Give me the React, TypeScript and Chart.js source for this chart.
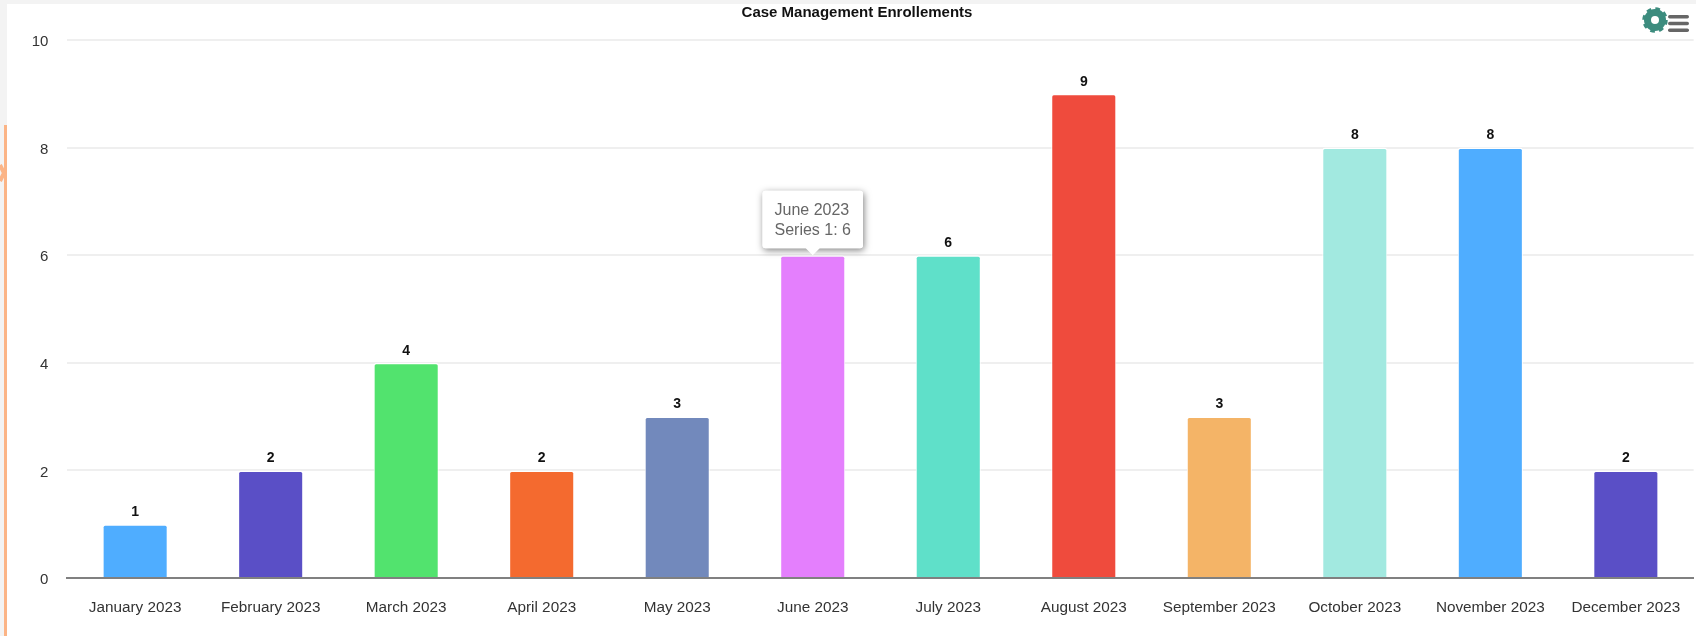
import React, { useEffect, useRef } from "react";
import { Chart, registerables } from "chart.js";

Chart.register(...registerables);

const categories = ["January 2023","February 2023","March 2023","April 2023","May 2023","June 2023","July 2023","August 2023","September 2023","October 2023","November 2023","December 2023"];
const values = [1,2,4,2,3,6,6,9,3,8,8,2];
const barColors = ["#4FADFF","#5A4FC6","#52E36E","#F46A2F","#7289BC","#E47FFD","#5FE0C9","#EF4B3D","#F4B467","#A2E9E0","#4FADFF","#5A4FC6"];
const yTicks = [0,2,4,6,8,10];
const seriesName = "Series 1";
const chartTitle = "Case Management Enrollements";
const activeIndex = 5;
const FONT = '"Liberation Sans", Arial, sans-serif';

const valueLabels = {
  id: "valueLabels",
  afterDatasetsDraw(chart: any) {
    const { ctx } = chart;
    const meta = chart.getDatasetMeta(0);
    ctx.save();
    ctx.font = `bold 14px ${FONT}`;
    ctx.fillStyle = "#111";
    ctx.textAlign = "center";
    ctx.textBaseline = "middle";
    meta.data.forEach((el: any, i: number) => ctx.fillText(String(values[i]), el.x, el.y - 12));
    ctx.restore();
  },
};

// Shadow goes under the box only, so the tooltip's text stays crisp.
const tooltipShadow = {
  id: "tooltipShadow",
  beforeTooltipDraw(chart: any) {
    const { ctx, tooltip } = chart;
    ctx.save();
    ctx.shadowColor = "rgba(0,0,0,0.5)";
    ctx.shadowBlur = 7;
    ctx.shadowOffsetX = 1;
    ctx.shadowOffsetY = 2;
    ctx.fillStyle = "#fff";
    ctx.beginPath();
    ctx.roundRect(tooltip.x, tooltip.y, tooltip.width, tooltip.height, 3);
    ctx.fill();
    ctx.restore();
  },
};

export default function App() {
  const ref = useRef<HTMLCanvasElement>(null);
  useEffect(() => {
    const chart = new Chart(ref.current as HTMLCanvasElement, {
      type: "bar",
      data: {
        labels: categories,
        datasets: [{
          label: seriesName,
          data: values,
          backgroundColor: barColors,
          hoverBackgroundColor: barColors,
          borderColor: "#ffffff",
          hoverBorderColor: "#ffffff",
          borderWidth: { top: 1.5, left: 1, right: 1, bottom: 0 },
          hoverBorderWidth: { top: 1.5, left: 1, right: 1, bottom: 0 },
          borderRadius: { topLeft: 3, topRight: 3 },
          borderSkipped: "bottom",
          barPercentage: 0.48,
          categoryPercentage: 1,
        }],
      },
      options: {
        responsive: false,
        animation: false,
        layout: { padding: { left: 20.4, right: 2.4, top: 4, bottom: 0 } },
        plugins: {
          legend: { display: false },
          title: {
            display: true,
            text: chartTitle,
            color: "#111",
            font: { family: FONT, size: 15, weight: "bold", lineHeight: 1.2 },
            padding: { top: 0, bottom: 18 },
          },
          tooltip: {
            enabled: true,
            backgroundColor: "#fff",
            titleColor: "#666",
            bodyColor: "#666",
            titleFont: { family: FONT, size: 16, weight: "normal" },
            bodyFont: { family: FONT, size: 16, weight: "normal" },
            titleMarginBottom: 0,
            displayColors: false,
            padding: { left: 12, right: 12, top: 10.5, bottom: 8.5 },
            cornerRadius: 3,
            caretSize: 7,
            caretPadding: 0,
            xAlign: "center",
            yAlign: "bottom",
            callbacks: {
              title: (items: any[]) => items[0].label,
              label: (item: any) => `${seriesName}: ${item.raw}`,
            },
          },
        },
        scales: {
          x: {
            grid: { display: false, drawTicks: false },
            border: { display: true, color: "#808080", width: 2 },
            ticks: { color: "#333", font: { family: FONT, size: 15.3 }, padding: 21, maxRotation: 0, autoSkip: false },
            afterFit: (s: any) => { s.height = 58; s.paddingLeft = 0; s.paddingRight = 0; },
          },
          y: {
            min: 0,
            max: 10,
            afterBuildTicks: (s: any) => { s.ticks = yTicks.map((v) => ({ value: v })); },
            grid: { color: (c: any) => (c.tick.value === 0 ? "rgba(0,0,0,0)" : "#EFEFEF"), lineWidth: 2, drawTicks: false },
            border: { display: false },
            ticks: {
              color: "#333",
              font: { family: FONT, size: 15, lineHeight: 0.27 },
              padding: 19,
              callback: (v: any) => ["", String(v)],
            },
            afterFit: (s: any) => { s.width = 47; s.paddingTop = 0; s.paddingBottom = 0; },
          },
        },
      } as any,
      plugins: [valueLabels, tooltipShadow],
    });
    const active = [{ datasetIndex: 0, index: activeIndex }];
    chart.setActiveElements(active);
    chart.tooltip?.setActiveElements(active, { x: 0, y: 0 });
    chart.update();
    return () => chart.destroy();
  }, []);

  return (
    <div style={{ position: "fixed", left: 0, top: 0, width: 1696, height: 636, background: "#fff", overflow: "hidden" }}>
      <canvas ref={ref} width={1696} height={636} style={{ position: "absolute", left: 0, top: 0, display: "block" }} />
      <svg width={1696} height={636} style={{ position: "absolute", left: 0, top: 0, pointerEvents: "none" }}>
        <rect x={0} y={0} width={1696} height={4} fill="#F3F3F3" />
        <rect x={0} y={0} width={7} height={636} fill="#F3F3F3" />
        <rect x={4} y={125} width={3} height={511} fill="#FBB486" />
        <path d="M0 165 L4 173 L0 181" fill="none" stroke="#FBB486" strokeWidth={4} />
        <g>
          <circle cx={1655} cy={20} r={7.5} fill="none" stroke="#3C8C7E" strokeWidth={7} />
          <circle cx={1655} cy={20} r={11} fill="none" stroke="#3C8C7E" strokeWidth={3.5} strokeDasharray="4.5 4.14" />
          <rect x={1668} y={15} width={21} height={3.5} rx={1.7} fill="#666" />
          <rect x={1668} y={21.7} width={21} height={3.5} rx={1.7} fill="#666" />
          <rect x={1668} y={28.4} width={21} height={3.5} rx={1.7} fill="#666" />
        </g>
      </svg>
    </div>
  );
}
